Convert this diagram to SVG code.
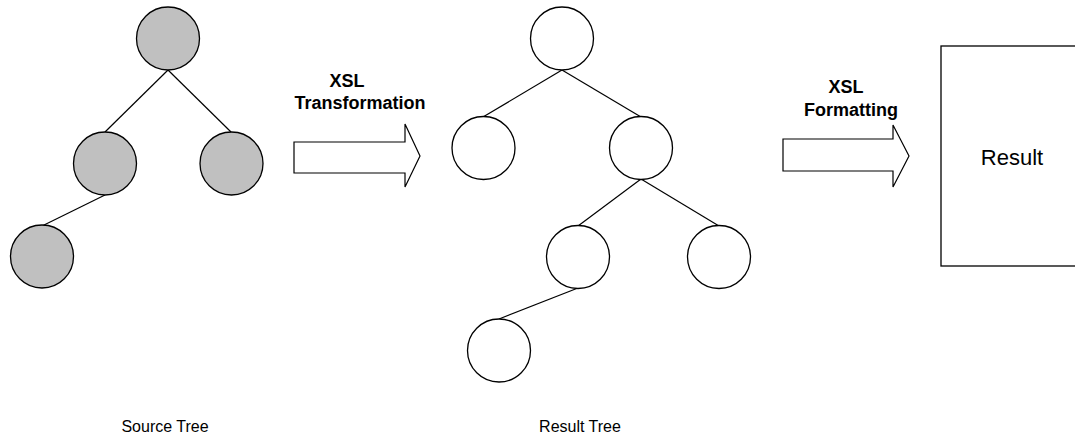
<svg xmlns="http://www.w3.org/2000/svg" width="1075" height="437" viewBox="0 0 1075 437">
<style>
.src{fill:#c0c0c0;stroke:#000;stroke-width:1.3}
.res{fill:#fff;stroke:#000;stroke-width:1.3}
.edge{stroke:#000;stroke-width:1.2;fill:none}
.arrow{fill:#fff;stroke:#000;stroke-width:1.2}
.lbl{font-family:"Liberation Sans",Arial,sans-serif;fill:#000}
.b{font-weight:bold;font-size:18px}
</style>
<rect width="1075" height="437" fill="#fff"/>
<g id="connectors">
<line class="edge" x1="168" y1="70" x2="105" y2="132"/>
<line class="edge" x1="168" y1="70" x2="231" y2="132"/>
<line class="edge" x1="105" y1="195" x2="42" y2="226"/>
<line class="edge" x1="562" y1="70" x2="483" y2="117"/>
<line class="edge" x1="562" y1="70" x2="641" y2="117"/>
<line class="edge" x1="641" y1="179" x2="578" y2="226"/>
<line class="edge" x1="641" y1="179" x2="719" y2="226"/>
<line class="edge" x1="578" y1="288" x2="499" y2="319"/>
</g>
<g id="s1"><circle class="src" cx="168" cy="38.5" r="31.5"/></g>
<g id="s2"><circle class="src" cx="105" cy="163.5" r="31.5"/></g>
<g id="s3"><circle class="src" cx="231.5" cy="163.5" r="31.5"/></g>
<g id="s4"><circle class="src" cx="42" cy="256.5" r="31.5"/></g>
<g id="r1"><circle class="res" cx="562" cy="38.5" r="31.5"/></g>
<g id="r2"><circle class="res" cx="483.5" cy="148" r="31.5"/></g>
<g id="r3"><circle class="res" cx="641" cy="148" r="31.5"/></g>
<g id="r4"><circle class="res" cx="578" cy="257" r="31.5"/></g>
<g id="r5"><circle class="res" cx="719" cy="257" r="31.5"/></g>
<g id="r6"><circle class="res" cx="499" cy="350.5" r="31.5"/></g>
<g id="transform">
<polygon class="arrow" points="294,142 405,142 405,124 420,156 405,187 405,173 294,173"/>
<text class="lbl b" x="347" y="87" text-anchor="middle">XSL</text>
<text class="lbl b" x="360" y="109" text-anchor="middle">Transformation</text>
</g>
<g id="format">
<polygon class="arrow" points="783,139 893,139 893,125 909,156 893,187 893,171 783,171"/>
<text class="lbl b" x="846" y="93" text-anchor="middle">XSL</text>
<text class="lbl b" x="851" y="116" text-anchor="middle">Formatting</text>
</g>
<g id="result">
<rect class="res" x="941" y="46" width="200" height="220"/>
<text class="lbl" x="1012" y="165" text-anchor="middle" font-size="22">Result</text>
</g>
<text class="lbl" x="165" y="432" text-anchor="middle" font-size="16">Source Tree</text>
<text class="lbl" x="580" y="432" text-anchor="middle" font-size="16">Result Tree</text>
</svg>
